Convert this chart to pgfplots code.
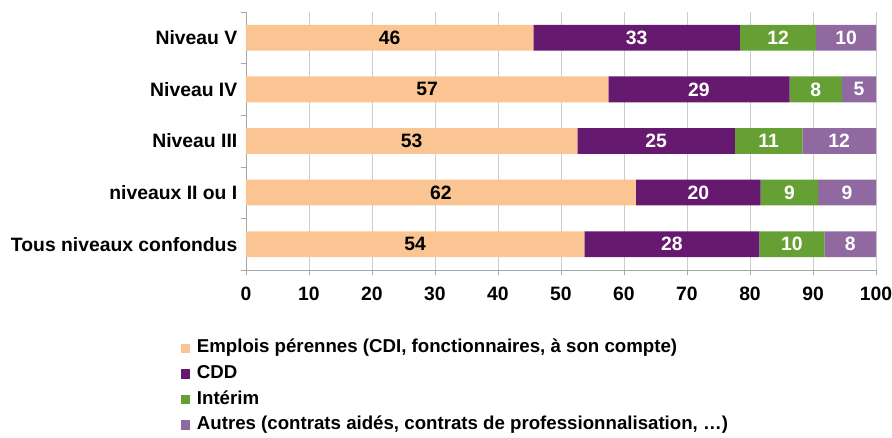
\documentclass[border=0pt]{standalone}
\usepackage{fontspec}
\setmainfont{Liberation Sans}
\usepackage{pgfplots}
\usepackage{pgfplotstable}
\pgfplotsset{compat=1.18}

\definecolor{cper}{HTML}{FAC592}
\definecolor{ccdd}{HTML}{65196F}
\definecolor{cint}{HTML}{66A035}
\definecolor{caut}{HTML}{9069A0}

% pos: 4 = Niveau V (top) ... 0 = Tous niveaux confondus
\pgfplotstableread{
pos per  cdd  int  aut  lper lcdd lint laut
4   45.6 32.8 12.1 9.5  46   33   12   10
3   57.5 28.8 8.3  5.4  57   29   8    5
2   52.6 25.0 10.7 11.7 53   25   11   12
1   61.9 19.8 9.1  9.2  62   20   9    9
0   53.7 27.8 10.3 8.2  54   28   10   8
}\data

\begin{document}
\begin{tikzpicture}
\useasboundingbox (-184.5pt,-126pt) rectangle (484.5pt,202.5pt);
\begin{axis}[
    at={(0,0)}, anchor=south west,
    scale only axis,
    width=472.5pt, height=193.5pt,
    xbar stacked,
    bar width=0.5,
    xmin=0, xmax=100,
    ymin=-0.5, ymax=4.5,
    axis lines=left,
    axis line style={-, draw=gray!70},
    xtick={0,10,...,100},
    ytick={-0.5,0.5,1.5,2.5,3.5,4.5},
    yticklabels={},
    extra y ticks={0,1,2,3,4},
    extra y tick labels={Tous niveaux confondus, niveaux II ou I, Niveau III, Niveau IV, Niveau V},
    extra y tick style={major tick length=0pt, tick style={draw=none}},
    tick align=outside,
    tick style={draw=gray!70},
    major tick length=4pt,
    xmajorgrids,
    grid style={gray!40, line width=0.6pt},
    tick label style={font=\bfseries\fontsize{14.5}{16}\selectfont},
    /pgf/number format/assume math mode=true,
    xticklabel style={yshift=-5pt},
    yticklabel style={xshift=-3pt},
    nodes near coords,
    point meta=explicit symbolic,
    every node near coord/.append style={font=\bfseries\fontsize{14.5}{16}\selectfont},
    legend style={at={(0,0)}, anchor=north west, xshift=-49pt, yshift=-51pt,
        draw=none, fill=none, inner sep=0pt, row sep=4.2pt,
        nodes={inner sep=1pt, text height=10pt, text depth=3pt},
        font=\bfseries\fontsize{14}{16}\selectfont},
    legend cell align=left,
    legend image code/.code={\fill[#1] (0pt,-3.5pt) rectangle (7pt,3.5pt); \path (11pt,0pt);},
]
\addplot[fill=cper, draw=none, nodes near coords style={text=black}] table[x=per, y=pos, meta=lper]{\data};
\addplot[fill=ccdd, draw=none, nodes near coords style={text=white}] table[x=cdd, y=pos, meta=lcdd]{\data};
\addplot[fill=cint, draw=none, nodes near coords style={text=white}] table[x=int, y=pos, meta=lint]{\data};
\addplot[fill=caut, draw=none, nodes near coords style={text=white}] table[x=aut, y=pos, meta=laut]{\data};
\legend{{Emplois pérennes (CDI, fonctionnaires, à son compte)}, CDD, Intérim, {Autres (contrats aidés, contrats de professionnalisation, …)}}
\end{axis}
\end{tikzpicture}
\end{document}
